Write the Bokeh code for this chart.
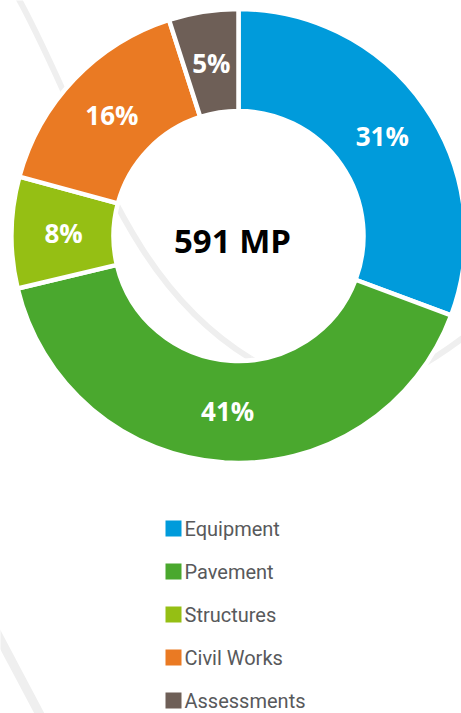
import numpy as np
from bokeh.plotting import figure
from bokeh.models import Range1d, ColumnDataSource
from bokeh.core.properties import value
from bokeh.embed import file_html
from bokeh.resources import INLINE

# ---- data ----
categories = ["Equipment", "Pavement", "Structures", "Civil Works", "Assessments"]
percent = [31, 41, 8, 16, 5]
colors = ["#009bdb", "#4aa82e", "#95bf14", "#ea7a23", "#6e5f57"]
total_label = "591 MP"

W, H = 461, 713
p = figure(width=W, height=H, x_range=Range1d(0, W), y_range=Range1d(0, H),
           output_backend="svg", toolbar_location=None, min_border=0)
p.axis.visible = False
p.grid.visible = False
p.outline_line_color = None
p.background_fill_color = "white"
p.border_fill_color = "white"

# decorative background swooshes (pixel coords -> data via H - y)
deco = "#efefef"
p.bezier(x0=[18, 250], y0=[H + 2, H - 358], x1=[250, 472], y1=[H - 358, H - 330],
         cx0=[90, 335], cy0=[H - 130, H - 411], cx1=[122, 392], cy1=[H - 280, H - 392],
         line_color=deco, line_width=6)
p.bezier(x0=[-6], y0=[H - 628], x1=[42], y1=[H - 719], cx0=[8], cy0=[H - 655],
         cx1=[26], cy1=[H - 688], line_color=deco, line_width=9)

# donut
cx, cy = 238, H - 235.5
r_in, r_out = 125, 227
vals = np.array(percent, dtype=float)
frac = vals / vals.sum()
cum = np.concatenate([[0.0], np.cumsum(frac)])
start = np.pi / 2 - cum[:-1] * 2 * np.pi
end = np.pi / 2 - cum[1:] * 2 * np.pi
mid = (start + end) / 2

src = ColumnDataSource(dict(start=start, end=end, color=colors))
p.annular_wedge(x=cx, y=cy, inner_radius=r_in, outer_radius=r_out,
                start_angle="start", end_angle="end", direction="clock",
                fill_color="color", line_color="white", line_width=4.5, source=src)

# percentage labels
lab_fs = 26
lr = (r_in + r_out) / 2 - 1
lsrc = ColumnDataSource(dict(
    x=cx + lr * np.cos(mid),
    y=cy + lr * np.sin(mid),
    t=[f"{v}%" for v in percent]))
p.text(x="x", y="y", text="t", source=lsrc, text_color="white",
       text_font=value("Open Sans"), text_font_style="bold",
       text_font_size=f"{lab_fs}px", text_align="center", text_baseline="middle")

# center label
c_fs = 33
p.text(x=[cx - 6], y=[cy - 4], text=[total_label], text_color="black",
       text_font=value("Open Sans"), text_font_style="bold",
       text_font_size=f"{c_fs}px", text_align="center", text_baseline="middle")

# legend
leg_x, leg_y0, leg_dy, sq = 173, 528, 43, 16
ly_pix = np.array([leg_y0 + i * leg_dy for i in range(len(categories))])
legsrc = ColumnDataSource(dict(x=[leg_x] * len(categories), y=H - ly_pix,
                               name=categories, color=colors))
p.rect(x="x", y="y", width=sq, height=sq, fill_color="color", line_color=None, source=legsrc)
p.text(x=leg_x + 11, y="y", text="name", source=legsrc, text_color="#58595b",
       text_font=value("Roboto"), text_font_size="20px",
       text_align="left", text_baseline="middle")

open("out.html", "w").write(file_html(p, INLINE))
